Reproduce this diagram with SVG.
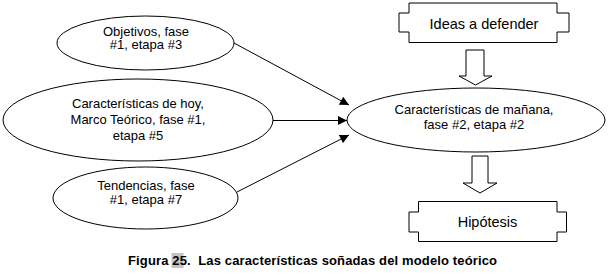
<svg xmlns="http://www.w3.org/2000/svg" width="608" height="276" viewBox="0 0 608 276">
  <style>
    .shape { fill: #ffffff; stroke: #000000; stroke-width: 1; }
    .lbl { font-family: "Liberation Sans", Arial, sans-serif; font-size: 13px; fill: #000000; text-anchor: middle; }
    .box { font-family: "Liberation Sans", Arial, sans-serif; font-size: 14.5px; fill: #000000; text-anchor: middle; }
    .cap { font-family: "Liberation Sans", Arial, sans-serif; font-size: 13px; font-weight: bold; fill: #000000; }
    .conn { stroke: #000000; stroke-width: 1; fill: none; }
  </style>
  <defs>
    <marker id="arr" viewBox="0 0 10 10" refX="10" refY="5" markerWidth="10" markerHeight="9" markerUnits="userSpaceOnUse" orient="auto">
      <path d="M0,0 L10,5 L0,10 Z" fill="#000000"/>
    </marker>
  </defs>
  <rect width="608" height="276" fill="#ffffff"/>

  <g id="connectors">
    <line class="conn" x1="234" y1="43" x2="349" y2="105" marker-end="url(#arr)"/>
    <line class="conn" x1="273" y1="120.5" x2="347" y2="120.5" marker-end="url(#arr)"/>
    <line class="conn" x1="237" y1="192" x2="349" y2="135" marker-end="url(#arr)"/>
    <path class="shape" d="M466,50 H484 V76 H492 L475.5,85 L459,76 H466 Z"/>
    <path class="shape" d="M472,156 H488 V183 H497 L480,193 L463,183 H472 Z"/>
  </g>

  <g id="objetivos">
    <ellipse class="shape" cx="145.5" cy="43" rx="88.5" ry="27"/>
    <text class="lbl" x="146" y="35.5">Objetivos, fase</text>
    <text class="lbl" x="146" y="49">#1, etapa #3</text>
  </g>

  <g id="caracteristicas-hoy">
    <ellipse class="shape" cx="138" cy="120" rx="135" ry="41"/>
    <text class="lbl" x="138" y="107.5">Características de hoy,</text>
    <text class="lbl" x="138" y="124">Marco Teórico, fase #1,</text>
    <text class="lbl" x="138" y="140">etapa #5</text>
  </g>

  <g id="tendencias">
    <ellipse class="shape" cx="145.5" cy="198" rx="92.5" ry="31"/>
    <text class="lbl" x="146" y="190">Tendencias, fase</text>
    <text class="lbl" x="146" y="203.5">#1, etapa #7</text>
  </g>

  <g id="caracteristicas-manana">
    <ellipse class="shape" cx="476" cy="120" rx="129" ry="32"/>
    <text class="lbl" x="474" y="113.5">Características de mañana,</text>
    <text class="lbl" x="474" y="128.5">fase #2, etapa #2</text>
  </g>

  <g id="ideas">
    <path class="shape" d="M409,3 H557 V13 H569 V32 H557 V42.5 H409 V32 H399 V13 H409 Z"/>
    <text class="box" x="484" y="28.5">Ideas a defender</text>
  </g>

  <g id="hipotesis">
    <path class="shape" d="M418.5,201.5 H557 V212 H566.5 V232 H557 V241.5 H418.5 V232 H409 V212 H418.5 Z"/>
    <text class="box" x="487.5" y="227">Hipótesis</text>
  </g>

  <g id="caption">
    <rect x="171.5" y="253" width="12" height="15" fill="#c4c4c4"/>
    <text class="cap" x="128" y="265" xml:space="preserve" textLength="369" lengthAdjust="spacing">Figura 25.  Las características soñadas del modelo teórico</text>
  </g>
</svg>
